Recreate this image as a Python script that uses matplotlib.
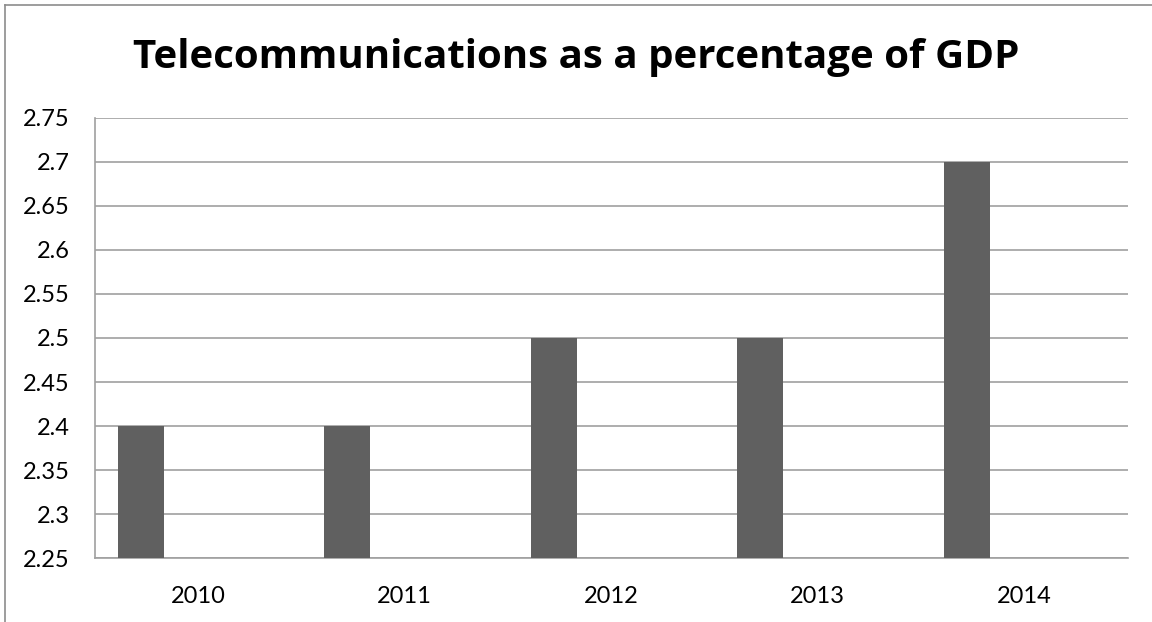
import numpy as np
import matplotlib
matplotlib.use('Agg')
from matplotlib import pyplot as plt
from matplotlib.lines import Line2D

years = ['2010', '2011', '2012', '2013', '2014']
values = [2.4, 2.4, 2.5, 2.5, 2.7]
yticks = [2.25, 2.3, 2.35, 2.4, 2.45, 2.5, 2.55, 2.6, 2.65, 2.7, 2.75]
ylabels = ['2.25', '2.3', '2.35', '2.4', '2.45', '2.5', '2.55', '2.6', '2.65', '2.7', '2.75']

plt.rcParams['font.family'] = ['Lato', 'DejaVu Sans']

fig = plt.figure(figsize=(11.52, 6.22), dpi=100)
ax = fig.add_axes([0.0822, 0.1024, 0.8967, 0.7084])

x = np.arange(len(years))
# bar sits in the left part of each category (empty second series in the original)
bar_w = 0.223
ax.bar(x - 0.5 + 0.111 + bar_w / 2, values, width=bar_w, color='#606060', zorder=3)

ax.set_xlim(-0.5, len(years) - 0.5)
ax.set_ylim(2.25, 2.75)
ax.set_yticks(yticks)
ax.set_yticklabels(ylabels)
ax.set_xticks(x)
ax.set_xticklabels(years)
ax.yaxis.grid(True, color='#a0a0a0', linewidth=1.2, zorder=0)
ax.tick_params(axis='both', length=0, labelsize=17, colors='black')
ax.tick_params(axis='y', pad=18)
ax.tick_params(axis='x', pad=20)
for s in ['top', 'right']:
    ax.spines[s].set_visible(False)
for s in ['left', 'bottom']:
    ax.spines[s].set_color('#a0a0a0')
    ax.spines[s].set_linewidth(1.2)

fig.text(0.5, 1 - 68.3 / 622, 'Telecommunications as a percentage of GDP', ha='center', va='baseline',
         fontsize=29, fontweight='bold', family=['Open Sans', 'DejaVu Sans'])

# chart area border (only top and left visible)
fig.add_artist(Line2D([4.5 / 1152, 1], [1 - 5 / 622, 1 - 5 / 622], color='#8c8c8c', linewidth=1.2))
fig.add_artist(Line2D([4.5 / 1152, 4.5 / 1152], [0, 1 - 5 / 622], color='#8c8c8c', linewidth=1.2))

fig.savefig('out.png', dpi=100)
